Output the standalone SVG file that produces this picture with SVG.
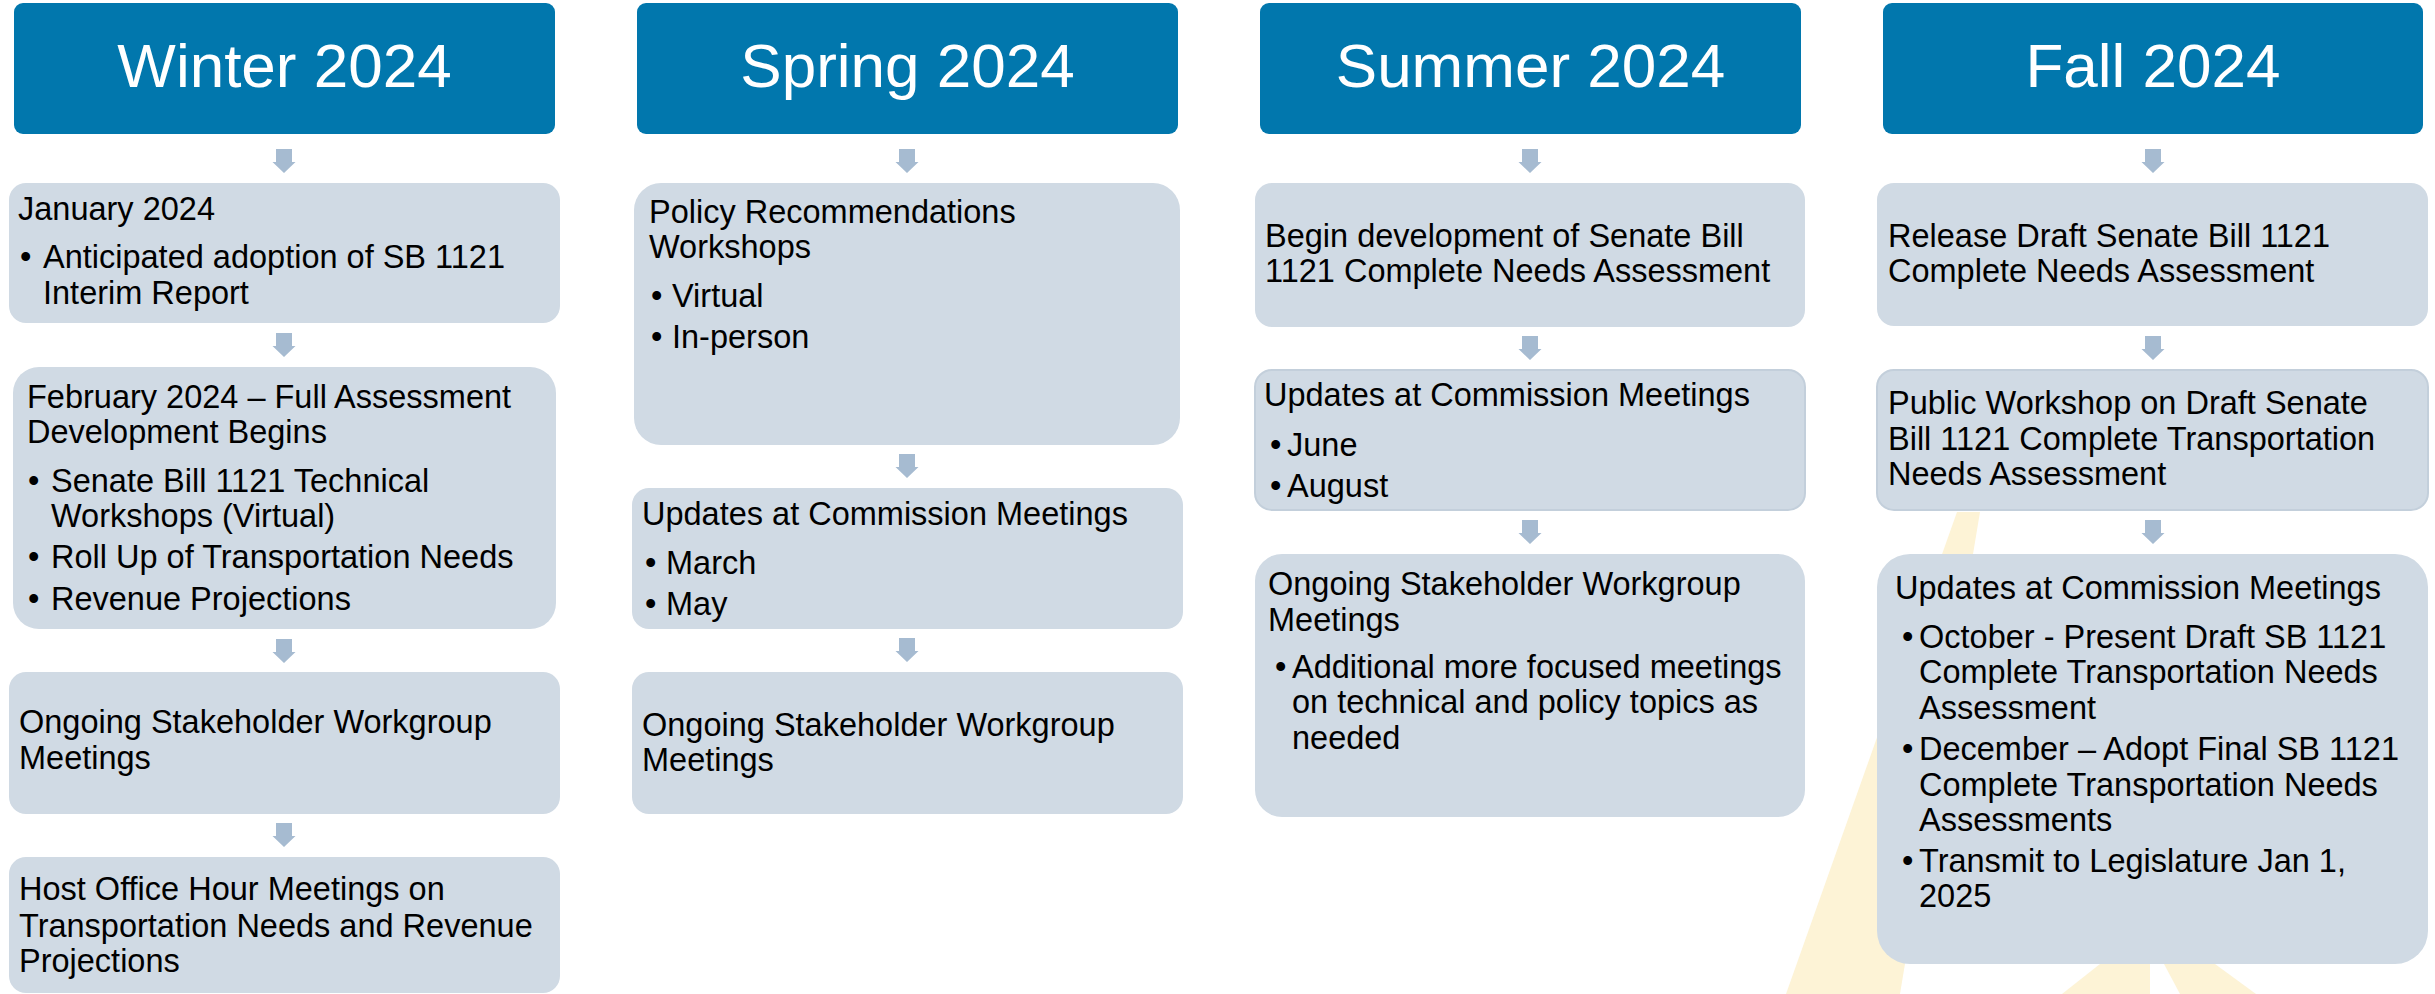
<svg xmlns="http://www.w3.org/2000/svg" xmlns:xlink="http://www.w3.org/1999/xlink" width="2435" height="994" viewBox="0 0 2435 994">
<style>
.hdr{fill:#0177AD}
.box{fill:#D0DAE4}
.edge{stroke:#C3CFDB;stroke-width:2}
.ht{font-family:"Liberation Sans",Arial,sans-serif;font-size:62px;fill:#FFFFFF;text-anchor:middle}
.t{font-family:"Liberation Sans",Arial,sans-serif;font-size:32.5px;fill:#000000}
.wm{fill:#FDF3D6}
.arw{fill:#A6BBD1}
</style>
<defs>
<path id="dn" d="M-8,0 H8 V13 H11.5 L0,24 L-11.5,13 H-8 Z"/>
</defs>
<rect width="2435" height="994" fill="#FFFFFF"/>
<g id="watermark">
<polygon class="wm" points="1957,512 1980,512 1900,994 1786,994"/>
<polygon class="wm" points="2100,964 2150,964 2150,994 2062,994"/>
<polygon class="wm" points="2164,964 2215,964 2256,994 2180,994"/>
</g>
<g id="connectors">
<use xlink:href="#dn" class="arw" x="284" y="149"/>
<use xlink:href="#dn" class="arw" x="284" y="333"/>
<use xlink:href="#dn" class="arw" x="284" y="639"/>
<use xlink:href="#dn" class="arw" x="284" y="823"/>
<use xlink:href="#dn" class="arw" x="907" y="149"/>
<use xlink:href="#dn" class="arw" x="907" y="454"/>
<use xlink:href="#dn" class="arw" x="907" y="638"/>
<use xlink:href="#dn" class="arw" x="1530" y="149"/>
<use xlink:href="#dn" class="arw" x="1530" y="336"/>
<use xlink:href="#dn" class="arw" x="1530" y="520"/>
<use xlink:href="#dn" class="arw" x="2153" y="149"/>
<use xlink:href="#dn" class="arw" x="2153" y="336"/>
<use xlink:href="#dn" class="arw" x="2153" y="520"/>
</g>
<g id="winter-header"><rect class="hdr" x="14" y="3" width="541" height="131" rx="9"/><text class="ht" x="284.5" y="87">Winter 2024</text></g>
<g id="winter-jan"><rect class="box" x="9" y="183" width="551" height="140" rx="17"/>
<text class="t" x="18" y="220">January 2024</text>
<text class="t" x="20" y="268">•</text><text class="t" x="43" y="268">Anticipated adoption of SB 1121</text>
<text class="t" x="43" y="304">Interim Report</text></g>
<g id="winter-feb"><rect class="box" x="13" y="367" width="543" height="262" rx="26"/>
<text class="t" x="27" y="408">February 2024 – Full Assessment</text>
<text class="t" x="27" y="443">Development Begins</text>
<text class="t" x="28" y="492">•</text><text class="t" x="51" y="492">Senate Bill 1121 Technical</text>
<text class="t" x="51" y="527">Workshops (Virtual)</text>
<text class="t" x="28" y="568">•</text><text class="t" x="51" y="568">Roll Up of Transportation Needs</text>
<text class="t" x="28" y="610">•</text><text class="t" x="51" y="610">Revenue Projections</text></g>
<g id="winter-ongoing"><rect class="box" x="9" y="672" width="551" height="142" rx="17"/>
<text class="t" x="19" y="733">Ongoing Stakeholder Workgroup</text>
<text class="t" x="19" y="769">Meetings</text></g>
<g id="winter-host"><rect class="box" x="9" y="857" width="551" height="136" rx="17"/>
<text class="t" x="19" y="900">Host Office Hour Meetings on</text>
<text class="t" x="19" y="937">Transportation Needs and Revenue</text>
<text class="t" x="19" y="972">Projections</text></g>

<g id="spring-header"><rect class="hdr" x="637" y="3" width="541" height="131" rx="9"/><text class="ht" x="907.5" y="87">Spring 2024</text></g>
<g id="spring-policy"><rect class="box" x="634" y="183" width="546" height="262" rx="27"/>
<text class="t" x="649" y="223">Policy Recommendations</text>
<text class="t" x="649" y="258">Workshops</text>
<text class="t" x="651" y="307">•</text><text class="t" x="672" y="307">Virtual</text>
<text class="t" x="651" y="348">•</text><text class="t" x="672" y="348">In-person</text></g>
<g id="spring-updates"><rect class="box" x="632" y="488" width="551" height="141" rx="17"/>
<text class="t" x="642" y="525">Updates at Commission Meetings</text>
<text class="t" x="645" y="574">•</text><text class="t" x="666" y="574">March</text>
<text class="t" x="645" y="615">•</text><text class="t" x="666" y="615">May</text></g>
<g id="spring-ongoing"><rect class="box" x="632" y="672" width="551" height="142" rx="17"/>
<text class="t" x="642" y="736">Ongoing Stakeholder Workgroup</text>
<text class="t" x="642" y="771">Meetings</text></g>

<g id="summer-header"><rect class="hdr" x="1260" y="3" width="541" height="131" rx="9"/><text class="ht" x="1530.5" y="87">Summer 2024</text></g>
<g id="summer-begin"><rect class="box" x="1255" y="183" width="550" height="144" rx="17"/>
<text class="t" x="1265" y="247">Begin development of Senate Bill</text>
<text class="t" x="1265" y="282">1121 Complete Needs Assessment</text></g>
<g id="summer-updates"><rect class="box edge" x="1255" y="370" width="550" height="140" rx="17"/>
<text class="t" x="1264" y="406">Updates at Commission Meetings</text>
<text class="t" x="1270" y="456">•</text><text class="t" x="1287" y="456">June</text>
<text class="t" x="1270" y="497">•</text><text class="t" x="1287" y="497">August</text></g>
<g id="summer-ongoing"><rect class="box" x="1255" y="554" width="550" height="263" rx="27"/>
<text class="t" x="1268" y="595">Ongoing Stakeholder Workgroup</text>
<text class="t" x="1268" y="631">Meetings</text>
<text class="t" x="1275" y="678">•</text><text class="t" x="1292" y="678">Additional more focused meetings</text>
<text class="t" x="1292" y="713">on technical and policy topics as</text>
<text class="t" x="1292" y="749">needed</text></g>

<g id="fall-header"><rect class="hdr" x="1883" y="3" width="540" height="131" rx="9"/><text class="ht" x="2153" y="87">Fall 2024</text></g>
<g id="fall-release"><rect class="box" x="1877" y="183" width="551" height="143" rx="17"/>
<text class="t" x="1888" y="247">Release Draft Senate Bill 1121</text>
<text class="t" x="1888" y="282">Complete Needs Assessment</text></g>
<g id="fall-workshop"><rect class="box edge" x="1877" y="370" width="551" height="140" rx="17"/>
<text class="t" x="1888" y="414">Public Workshop on Draft Senate</text>
<text class="t" x="1888" y="450">Bill 1121 Complete Transportation</text>
<text class="t" x="1888" y="485">Needs Assessment</text></g>
<g id="fall-updates"><rect class="box" x="1877" y="554" width="551" height="410" rx="33"/>
<text class="t" x="1895" y="599">Updates at Commission Meetings</text>
<text class="t" x="1902" y="648">•</text><text class="t" x="1919" y="648">October - Present Draft SB 1121</text>
<text class="t" x="1919" y="683">Complete Transportation Needs</text>
<text class="t" x="1919" y="719">Assessment</text>
<text class="t" x="1902" y="760">•</text><text class="t" x="1919" y="760">December – Adopt Final SB 1121</text>
<text class="t" x="1919" y="796">Complete Transportation Needs</text>
<text class="t" x="1919" y="831">Assessments</text>
<text class="t" x="1902" y="872">•</text><text class="t" x="1919" y="872">Transmit to Legislature Jan 1,</text>
<text class="t" x="1919" y="907">2025</text></g>
</svg>
